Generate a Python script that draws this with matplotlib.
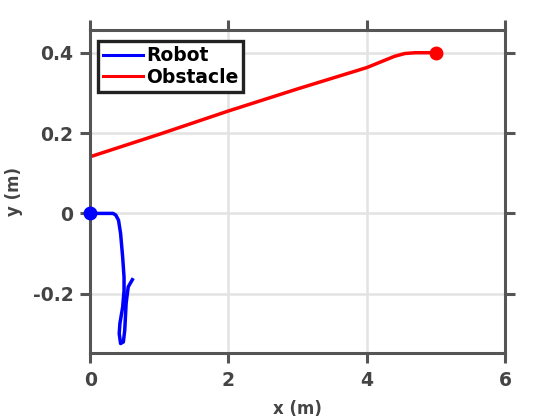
import matplotlib
matplotlib.use('Agg')
import matplotlib.pyplot as plt

plt.rcParams['axes.unicode_minus'] = False

# robot path (m)
robot_x = [0.0, 0.33, 0.37, 0.41, 0.44, 0.47, 0.49, 0.49, 0.47, 0.43, 0.42, 0.44, 0.48, 0.50, 0.52, 0.55, 0.61]
robot_y = [0.0, 0.0, -0.004, -0.017, -0.05, -0.109, -0.159, -0.192, -0.233, -0.274, -0.299, -0.324, -0.32, -0.291, -0.224, -0.183, -0.165]

# obstacle path (m)
obs_x = [0.0, 1.0, 2.0, 3.0, 4.0, 4.2, 4.4, 4.55, 4.7, 5.0]
obs_y = [0.141, 0.197, 0.255, 0.31, 0.363, 0.377, 0.391, 0.398, 0.4, 0.4]

gray = '#555555'
txt = '#444444'

fig = plt.figure(figsize=(5.6, 4.2), dpi=100)
ax = fig.add_axes([0.161, 0.160, 0.741, 0.769])

ax.plot(robot_x, robot_y, color='#0000ff', lw=2.5, label='Robot')
ax.plot(obs_x, obs_y, color='#ff0000', lw=2.5, label='Obstacle')
ax.plot(robot_x[0], robot_y[0], 'o', color='#0000ff', ms=9, clip_on=False, zorder=5)
ax.plot(obs_x[-1], obs_y[-1], 'o', color='#ff0000', ms=9, clip_on=False, zorder=5)

ax.set_xlim(0, 6)
ax.set_ylim(-0.347, 0.457)
ax.set_xticks([0, 2, 4, 6])
ax.set_yticks([-0.2, 0, 0.2, 0.4])
ax.set_xticklabels(['0', '2', '4', '6'])
ax.set_yticklabels(['-0.2', '0', '0.2', '0.4'])

ax.grid(True, color='#e3e3e3', lw=1.8)
ax.set_axisbelow(True)
for s in ax.spines.values():
    s.set_color(gray)
    s.set_linewidth(2.2)
ax.tick_params(direction='out', length=7, width=2.2, color=gray,
               labelcolor=txt, labelsize=13.5, top=True, right=True)
ax.tick_params(axis='x', pad=6)
ax.tick_params(axis='y', pad=5)
for lab in ax.get_xticklabels() + ax.get_yticklabels():
    lab.set_fontweight('bold')

ax.set_xlabel('x (m)', fontsize=12, fontweight='bold', color=txt, labelpad=7)
ax.set_ylabel('y (m)', fontsize=12, fontweight='bold', color=txt, labelpad=7)

leg = ax.legend(loc='upper left', bbox_to_anchor=(0.02, 0.964),
                prop={'weight': 'bold', 'size': 13.5},
                fancybox=False, framealpha=1, handlelength=2.1,
                handletextpad=0.2, borderpad=0.25, labelspacing=0.15,
                borderaxespad=0)
leg.get_frame().set_edgecolor('#222222')
leg.get_frame().set_linewidth(2.4)
for h in leg.get_lines():
    h.set_linewidth(2.2)

fig.savefig('out.png', dpi=100)
